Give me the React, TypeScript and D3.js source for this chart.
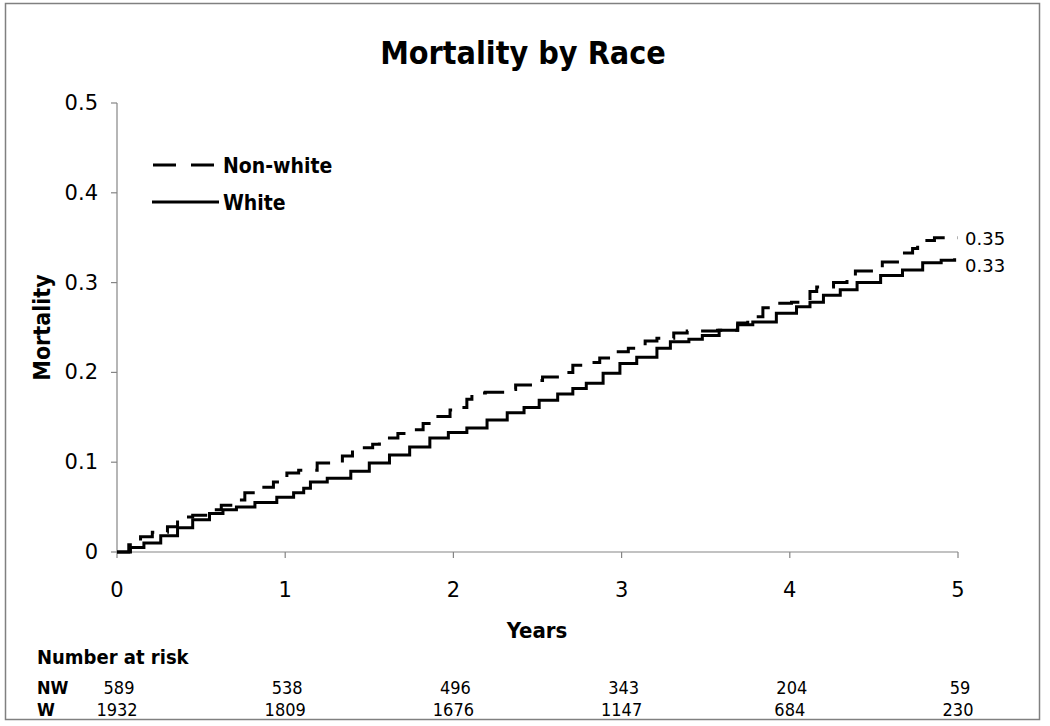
import React from "react";
import * as d3 from "d3";

const title = "Mortality by Race";
const xTicks = [0, 1, 2, 3, 4, 5];
const yTicks = [0, 0.1, 0.2, 0.3, 0.4, 0.5];
const yTickLabels = ["0", "0.1", "0.2", "0.3", "0.4", "0.5"];

// [year, mortality]
const nonWhite: [number, number][] = [
  [0, 0], [0.07, 0.008], [0.14, 0.017], [0.21, 0.022], [0.3, 0.028], [0.36, 0.039],
  [0.45, 0.041], [0.55, 0.047], [0.62, 0.052], [0.71, 0.058], [0.76, 0.066], [0.85, 0.072],
  [0.93, 0.078], [1.01, 0.088], [1.08, 0.091], [1.19, 0.099], [1.34, 0.107], [1.4, 0.116],
  [1.52, 0.12], [1.56, 0.127], [1.67, 0.132], [1.74, 0.136], [1.82, 0.143], [1.87, 0.151],
  [1.98, 0.158], [2.04, 0.161], [2.08, 0.17], [2.11, 0.177], [2.19, 0.178], [2.31, 0.181],
  [2.37, 0.186], [2.47, 0.191], [2.53, 0.195], [2.65, 0.2], [2.71, 0.208], [2.79, 0.211],
  [2.87, 0.216], [2.98, 0.223], [3.04, 0.227], [3.14, 0.235], [3.21, 0.238], [3.31, 0.244],
  [3.39, 0.246], [3.57, 0.247], [3.69, 0.255], [3.75, 0.262], [3.84, 0.272], [3.9, 0.277],
  [4.01, 0.278], [4.08, 0.28], [4.12, 0.29], [4.16, 0.295], [4.26, 0.3], [4.34, 0.305],
  [4.39, 0.313], [4.55, 0.323], [4.64, 0.333], [4.73, 0.338], [4.76, 0.347], [4.86, 0.35],
  [5.0, 0.35],
];

const white: [number, number][] = [
  [0, 0], [0.08, 0.005], [0.16, 0.01], [0.26, 0.018], [0.36, 0.027], [0.45, 0.036],
  [0.55, 0.043], [0.63, 0.047], [0.71, 0.05], [0.82, 0.055], [0.95, 0.061], [1.05, 0.066],
  [1.11, 0.071], [1.15, 0.078], [1.25, 0.082], [1.39, 0.09], [1.5, 0.099], [1.62, 0.108],
  [1.74, 0.117], [1.86, 0.127], [1.97, 0.133], [2.08, 0.138], [2.2, 0.147], [2.32, 0.155],
  [2.42, 0.161], [2.51, 0.169], [2.62, 0.176], [2.71, 0.182], [2.79, 0.188], [2.89, 0.199],
  [2.99, 0.21], [3.09, 0.217], [3.21, 0.227], [3.29, 0.234], [3.4, 0.237], [3.48, 0.241],
  [3.58, 0.247], [3.69, 0.253], [3.78, 0.256], [3.92, 0.266], [4.04, 0.273], [4.12, 0.278],
  [4.2, 0.286], [4.3, 0.292], [4.4, 0.3], [4.54, 0.308], [4.67, 0.314], [4.79, 0.322],
  [4.9, 0.325], [4.98, 0.327],
];

const endLabels = ["0.35", "0.33"];
const legendLabels = ["Non-white", "White"];
const riskGroups = ["NW", "W"];
const riskNW = [589, 538, 496, 343, 204, 59];
const riskW = [1932, 1809, 1676, 1147, 684, 230];

const W = 1050;
const H = 726;
const condensed = "'DejaVu Sans Condensed', 'DejaVu Sans', sans-serif";
const regular = "'DejaVu Sans', Verdana, sans-serif";

export default function App() {
  const x = d3.scaleLinear().domain([0, 5]).range([117, 958]);
  const y = d3.scaleLinear().domain([0, 0.5]).range([552, 103]);
  const line = d3
    .line<[number, number]>()
    .x((d) => x(d[0]))
    .y((d) => y(d[1]))
    .curve(d3.curveStepAfter);

  const axisColor = "#858585";
  const nwLast = nonWhite[nonWhite.length - 1];
  const wLast = white[white.length - 1];
  const rowNW = 694;
  const rowW = 716;

  return (
    <svg
      width={W}
      height={H}
      style={{ position: "absolute", left: 0, top: 0, background: "#fff" }}
    >
      <rect x={0} y={0} width={W} height={H} fill="#fff" />
      <rect x={5.5} y={3.5} width={1034} height={716} fill="none" stroke="#808080" strokeWidth={1.5} />

      <text x={523} y={64} textAnchor="middle" fontFamily={condensed} fontWeight="bold" fontSize={32}>
        {title}
      </text>

      {/* Y axis */}
      <line x1={x(0)} x2={x(0)} y1={y(0.5)} y2={y(0)} stroke={axisColor} strokeWidth={1.2} />
      {yTicks.map((t, i) => (
        <g key={"yt" + i}>
          <line x1={x(0) - 6} x2={x(0)} y1={y(t)} y2={y(t)} stroke={axisColor} strokeWidth={1.2} />
          <text x={98} y={y(t) + 7} textAnchor="end" fontFamily={regular} fontSize={21} fill="#000">
            {yTickLabels[i]}
          </text>
        </g>
      ))}

      {/* X axis */}
      <line x1={x(0)} x2={x(5)} y1={y(0)} y2={y(0)} stroke={axisColor} strokeWidth={1.2} />
      {xTicks.map((t) => (
        <g key={"xt" + t}>
          <line x1={x(t)} x2={x(t)} y1={y(0)} y2={y(0) + 6} stroke={axisColor} strokeWidth={1.2} />
          <text x={x(t)} y={y(0) + 45} textAnchor="middle" fontFamily={regular} fontSize={21} fill="#000">
            {t}
          </text>
        </g>
      ))}

      <text x={537} y={638} textAnchor="middle" fontFamily={condensed} fontWeight="bold" fontSize={22}>
        Years
      </text>
      <text
        transform={`translate(50, ${y(0.25)}) rotate(-90)`}
        textAnchor="middle"
        fontFamily={condensed}
        fontWeight="bold"
        fontSize={23}
      >
        Mortality
      </text>

      {/* Curves */}
      <path d={line(white) || ""} fill="none" stroke="#000" strokeWidth={3} />
      <path d={line(nonWhite) || ""} fill="none" stroke="#000" strokeWidth={3} strokeDasharray="22,13" />

      {/* End labels */}
      <text x={x(5) + 7} y={y(nwLast[1]) + 7} fontFamily={regular} fontSize={18}>
        {endLabels[0]}
      </text>
      <text x={x(5) + 7} y={y(wLast[1]) + 14} fontFamily={regular} fontSize={18}>
        {endLabels[1]}
      </text>

      {/* Legend */}
      <line x1={153} x2={216} y1={165} y2={165} stroke="#000" strokeWidth={3} strokeDasharray="23,15" />
      <text x={223} y={173} fontFamily={condensed} fontWeight="bold" fontSize={21}>
        {legendLabels[0]}
      </text>
      <line x1={152} x2={219} y1={202} y2={202} stroke="#000" strokeWidth={3} />
      <text x={223} y={210} fontFamily={condensed} fontWeight="bold" fontSize={21}>
        {legendLabels[1]}
      </text>

      {/* Number at risk */}
      <text x={37} y={664} fontFamily={condensed} fontWeight="bold" fontSize={20}>
        Number at risk
      </text>
      <text x={37} y={rowNW} fontFamily={condensed} fontWeight="bold" fontSize={18}>
        {riskGroups[0]}
      </text>
      <text x={37} y={rowW} fontFamily={condensed} fontWeight="bold" fontSize={18}>
        {riskGroups[1]}
      </text>
      {riskNW.map((v, i) => (
        <text key={"nw" + i} x={x(xTicks[i]) + 2} y={rowNW} textAnchor="middle" fontFamily={condensed} fontSize={18}>
          {v}
        </text>
      ))}
      {riskW.map((v, i) => (
        <text key={"w" + i} x={x(xTicks[i])} y={rowW} textAnchor="middle" fontFamily={condensed} fontSize={18}>
          {v}
        </text>
      ))}
    </svg>
  );
}
